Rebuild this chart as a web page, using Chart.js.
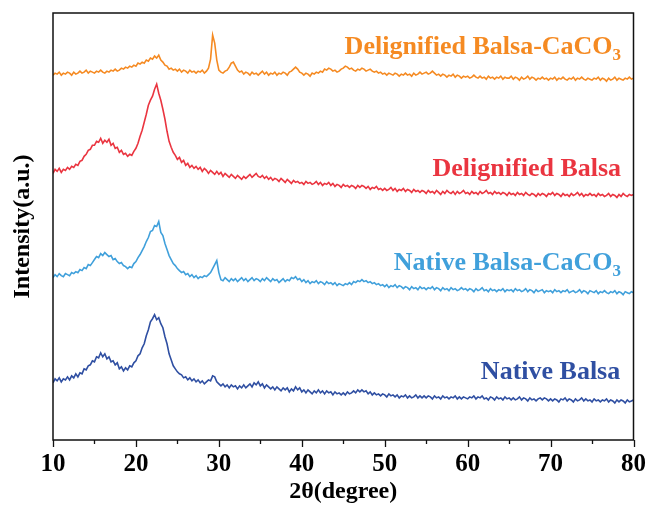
<!DOCTYPE html>
<html>
<head>
<meta charset="utf-8">
<script src="https://cdn.jsdelivr.net/npm/chart.js@4/dist/chart.umd.min.js"></script>
<style>
  html, body { margin: 0; padding: 0; background: #ffffff; }
  #wrap { width: 648px; height: 508px; }
</style>
</head>
<body>
<div id="wrap"><canvas id="xrd" width="648" height="508"></canvas></div>
<script>
// XRD scan: 2θ from 10° to 80°, one reading every 0.25°
const scanStart = 10;
const scanStep = 0.25;

// Intensities (a.u.), each pattern already shifted up for the stacked view.
// One row per 5° of 2θ.
const nativeBalsa = [
  57, 61, 59, 62, 58, 61, 60, 63, 60, 64, 62, 66, 63, 67, 66, 71, 70, 74, 75, 79,
  78, 83, 82, 87, 83, 86, 81, 83, 78, 79, 75, 77, 71, 73, 69, 72, 70, 74, 73, 77,
  79, 84, 86, 92, 96, 104, 110, 118, 121, 125, 120, 122, 116, 112, 103, 96, 86, 80, 74, 71,
  68, 66, 65, 62, 63, 60, 62, 59, 61, 58, 60, 57, 59, 56, 58, 60, 59, 64, 63, 58,
  56, 54, 56, 53, 55, 52, 55, 53, 54, 51, 54, 52, 55, 52, 54, 56, 53, 57, 55, 58,
  54, 56, 52, 55, 53, 51, 53, 50, 53, 51, 49, 52, 50, 52, 48, 51, 49, 53, 50, 52,
  48, 50, 47, 50, 48, 46, 49, 47, 50, 47, 49, 46, 49, 47, 48, 45, 48, 46, 47, 45,
  47, 45, 48, 46, 47, 49, 47, 50, 48, 50, 48, 49, 46, 48, 45, 47, 45, 46, 44, 46,
  45, 43, 46, 44, 45, 43, 45, 42, 44, 43, 45, 42, 44, 42, 43, 45, 42, 44, 42, 44,
  42, 44, 43, 41, 44, 42, 43, 41, 44, 42, 43, 41, 43, 42, 44, 41, 43, 41, 43, 42,
  41, 43, 42, 44, 41, 43, 42, 44, 41, 42, 40, 43, 42, 40, 43, 41, 42, 40, 43, 41,
  42, 40, 42, 40, 41, 43, 40, 42, 41, 39, 42, 40, 41, 39, 41, 42, 40, 42, 41, 39,
  41, 39, 41, 40, 38, 41, 40, 42, 39, 41, 40, 38, 41, 39, 40, 42, 39, 41, 39, 40,
  38, 41, 39, 40, 38, 40, 39, 41, 38, 40, 39, 37, 40, 38, 40, 39, 37, 40, 38, 39,
  40
];

const nativeBalsaCaCO3 = [
  162, 165, 163, 166, 164, 163, 166, 165, 164, 167, 166, 168, 167, 170, 169, 172, 171, 175, 174, 177,
  180, 183, 182, 186, 184, 187, 185, 183, 184, 180, 181, 178, 176, 177, 174, 173, 171, 173, 172, 176,
  178, 182, 185, 189, 193, 198, 202, 208, 209, 214, 213, 218, 207, 204, 196, 190, 184, 180, 176, 174,
  171, 169, 167, 168, 165, 166, 163, 165, 162, 164, 161, 163, 162, 164, 163, 165, 167, 171, 175, 179,
  167, 160, 159, 162, 160, 158, 161, 159, 161, 158, 160, 162, 159, 161, 158, 160, 162, 159, 161, 160,
  158, 161, 159, 162, 160, 158, 161, 159, 160, 157, 159, 161, 158, 160, 159, 162, 161, 163, 160, 161,
  158, 160, 157, 159, 156, 158, 157, 159, 156, 158, 157, 155, 158, 156, 157, 155, 157, 154, 156, 155,
  154, 156, 155, 157, 155, 158, 157, 159, 158, 160, 158, 159, 157, 158, 156, 157, 155, 156, 154, 155,
  153, 155, 152, 154, 153, 155, 152, 154, 153, 151, 153, 152, 150, 153, 151, 152, 150, 153, 151, 152,
  150, 152, 151, 153, 150, 152, 151, 149, 152, 150, 151, 149, 152, 150, 151, 149, 150, 152, 150, 151,
  149, 151, 150, 148, 151, 149, 150, 152, 149, 150, 148, 151, 149, 150, 148, 150, 149, 151, 148, 150,
  149, 150, 148, 151, 149, 150, 148, 149, 151, 148, 150, 149, 147, 150, 148, 149, 150, 147, 149, 148,
  149, 147, 150, 148, 149, 147, 149, 148, 150, 147, 148, 149, 147, 148, 150, 147, 149, 148, 146, 149,
  148, 147, 149, 146, 148, 147, 149, 147, 146, 148, 147, 149, 146, 148, 147, 145, 148, 147, 146, 148,
  147
];

const delignifiedBalsa = [
  266, 270, 268, 271, 267, 270, 269, 272, 270, 273, 272, 275, 274, 278, 279, 283, 285, 289, 290, 294,
  294, 298, 297, 301, 296, 299, 297, 300, 294, 296, 291, 292, 287, 289, 285, 286, 283, 285, 284, 288,
  291, 296, 303, 309, 317, 325, 334, 339, 343, 350, 355, 346, 339, 330, 320, 308, 298, 292, 287, 284,
  280, 282, 277, 279, 274, 276, 272, 274, 271, 273, 270, 272, 268, 271, 269, 266, 269, 267, 265, 268,
  265, 267, 263, 266, 264, 262, 265, 263, 261, 264, 262, 260, 263, 261, 263, 265, 262, 264, 266, 263,
  262, 264, 261, 263, 260, 262, 259, 261, 260, 258, 261, 259, 257, 260, 258, 256, 259, 257, 258, 256,
  257, 255, 258, 256, 257, 255, 256, 258, 255, 257, 254, 256, 255, 257, 254, 256, 253, 255, 254, 252,
  255, 253, 254, 252, 254, 253, 251, 254, 252, 254, 253, 251, 253, 250, 252, 251, 253, 250, 251, 249,
  251, 249, 250, 252, 249, 251, 248, 250, 249, 251, 248, 250, 249, 247, 250, 248, 249, 247, 249, 248,
  246, 249, 247, 248, 246, 249, 247, 245, 248, 246, 249, 247, 246, 248, 245, 248, 246, 247, 249, 246,
  247, 245, 248, 246, 247, 245, 248, 246, 247, 249, 246, 247, 245, 248, 246, 247, 245, 247, 246, 244,
  247, 245, 246, 244, 247, 245, 246, 244, 247, 245, 244, 246, 245, 243, 246, 244, 246, 245, 243, 246,
  245, 247, 244, 246, 245, 243, 246, 244, 245, 243, 246, 244, 245, 247, 244, 246, 243, 245, 244, 246,
  244, 245, 243, 246, 244, 245, 243, 244, 246, 243, 245, 244, 242, 245, 243, 246, 244, 243, 245, 244,
  245
];

const delignifiedBalsaCaCO3 = [
  364, 366, 365, 367, 364, 366, 365, 367, 366, 364, 367, 365, 366, 368, 366, 367, 369, 366, 368, 367,
  366, 368, 367, 369, 367, 366, 368, 367, 369, 368, 370, 368, 369, 371, 370, 372, 371, 373, 372, 374,
  373, 376, 375, 377, 376, 379, 378, 381, 380, 383, 381, 384, 379, 377, 374, 373, 370, 371, 369, 370,
  368, 370, 367, 369, 368, 366, 369, 367, 368, 366, 368, 367, 369, 366, 368, 371, 380, 404, 396, 379,
  369, 367, 366, 368, 369, 372, 376, 377, 373, 369, 367, 368, 365, 367, 366, 364, 367, 365, 366, 364,
  366, 368, 365, 367, 364, 366, 365, 367, 364, 366, 365, 367, 366, 364, 367, 368, 370, 372, 370, 367,
  366, 364, 366, 365, 363, 366, 365, 367, 366, 368, 367, 370, 369, 371, 370, 368, 369, 367, 368, 370,
  371, 373, 372, 370, 371, 369, 368, 370, 369, 371, 370, 368, 369, 370, 368, 367, 368, 366, 367, 365,
  366, 364, 366, 365, 364, 366, 365, 363, 365, 364, 366, 364, 365, 363, 366, 364, 365, 367, 365, 366,
  367, 365, 366, 368, 366, 364, 365, 363, 365, 364, 362, 364, 363, 365, 362, 364, 363, 361, 363, 362,
  363, 361, 362, 364, 362, 361, 363, 361, 362, 360, 363, 361, 362, 360, 362, 361, 363, 360, 362, 361,
  361, 363, 360, 362, 361, 359, 362, 360, 361, 363, 360, 362, 361, 359, 361, 360, 362, 360, 361, 359,
  361, 360, 362, 359, 361, 360, 362, 360, 359, 361, 360, 362, 359, 361, 360, 362, 360, 359, 361, 360,
  359, 361, 360, 362, 359, 361, 360, 358, 361, 359, 360, 362, 359, 361, 360, 359, 361, 360, 362, 360,
  361
];

const seriesValues = [nativeBalsa, nativeBalsaCaCO3, delignifiedBalsa, delignifiedBalsaCaCO3];
const seriesNames = ['Native Balsa', 'Native Balsa-CaCO', 'Delignified Balsa', 'Delignified Balsa-CaCO'];
const nameSubscripts = ['', '3', '', '3'];
const xTickValues = [10, 20, 30, 40, 50, 60, 70, 80];

// Styling and label placement (in axis units)
const seriesColors = ['#2f4fa2', '#40a0db', '#ea3540', '#f58a22'];
const labelRightAt = [78.4, 78.5, 78.5, 78.5];
const labelBaselineAt = [61, 170, 263, 385];

const serif = "'Liberation Serif', 'Times New Roman', serif";

const datasets = seriesValues.map((vals, k) => ({
  label: seriesNames[k] + nameSubscripts[k],
  data: vals.map((v, i) => ({ x: scanStart + i * scanStep, y: v })),
  borderColor: seriesColors[k],
  borderWidth: 1.6,
  pointRadius: 0,
  tension: 0,
  fill: false
}));

// Frame, major/minor ticks on the 2θ axis, and the pattern names
const framePlugin = {
  id: 'frame',
  afterDraw(chart) {
    const { ctx, chartArea: a, scales } = chart;
    const xs = scales.x, ys = scales.y;
    ctx.save();
    ctx.strokeStyle = '#111';
    ctx.lineWidth = 1.5;
    ctx.strokeRect(a.left, a.top, a.right - a.left, a.bottom - a.top);
    ctx.lineWidth = 1.3;
    for (let v = xs.min; v <= xs.max; v += 5) {
      const px = Math.round(xs.getPixelForValue(v)) + 0.5;
      const len = (v % 10 === 0) ? 7 : 4;
      ctx.beginPath();
      ctx.moveTo(px, a.bottom);
      ctx.lineTo(px, a.bottom + len);
      ctx.stroke();
    }
    ctx.textBaseline = 'alphabetic';
    ctx.textAlign = 'right';
    seriesNames.forEach((name, k) => {
      const xr = xs.getPixelForValue(labelRightAt[k]);
      const yb = ys.getPixelForValue(labelBaselineAt[k]);
      ctx.fillStyle = seriesColors[k];
      let right = xr;
      if (nameSubscripts[k]) {
        ctx.font = 'bold 17px ' + serif;
        ctx.fillText(nameSubscripts[k], right, yb + 6);
        right -= ctx.measureText(nameSubscripts[k]).width;
      }
      ctx.font = 'bold 26px ' + serif;
      ctx.fillText(name, right, yb);
    });
    ctx.restore();
  }
};

new Chart(document.getElementById('xrd'), {
  type: 'line',
  data: { datasets },
  options: {
    responsive: false,
    animation: false,
    events: [],
    layout: { padding: { top: 13, right: 10, left: 0, bottom: 0 } },
    plugins: { legend: { display: false }, tooltip: { enabled: false } },
    scales: {
      x: {
        type: 'linear',
        min: 10,
        max: 80,
        afterBuildTicks(scale) { scale.ticks = xTickValues.map(v => ({ value: v })); },
        afterFit(scale) { scale.height = 68; },
        grid: { display: false },
        border: { display: false },
        ticks: {
          padding: 2,
          maxRotation: 0,
          autoSkip: false,
          color: '#000',
          font: { family: serif, size: 25, weight: 'bold' }
        },
        title: {
          display: true,
          text: '2θ(degree)',
          color: '#000',
          padding: { top: 0, bottom: 2 },
          font: { family: serif, size: 24, weight: 'bold' }
        }
      },
      y: {
        min: 0,
        max: 426,
        afterFit(scale) { scale.width = 53; },
        grid: { display: false },
        border: { display: false },
        ticks: { display: false },
        title: {
          display: true,
          text: 'Intensity(a.u.)',
          color: '#000',
          padding: { top: 8, bottom: 4 },
          font: { family: serif, size: 24, weight: 'bold' }
        }
      }
    }
  },
  plugins: [framePlugin]
});
</script>
</body>
</html>
